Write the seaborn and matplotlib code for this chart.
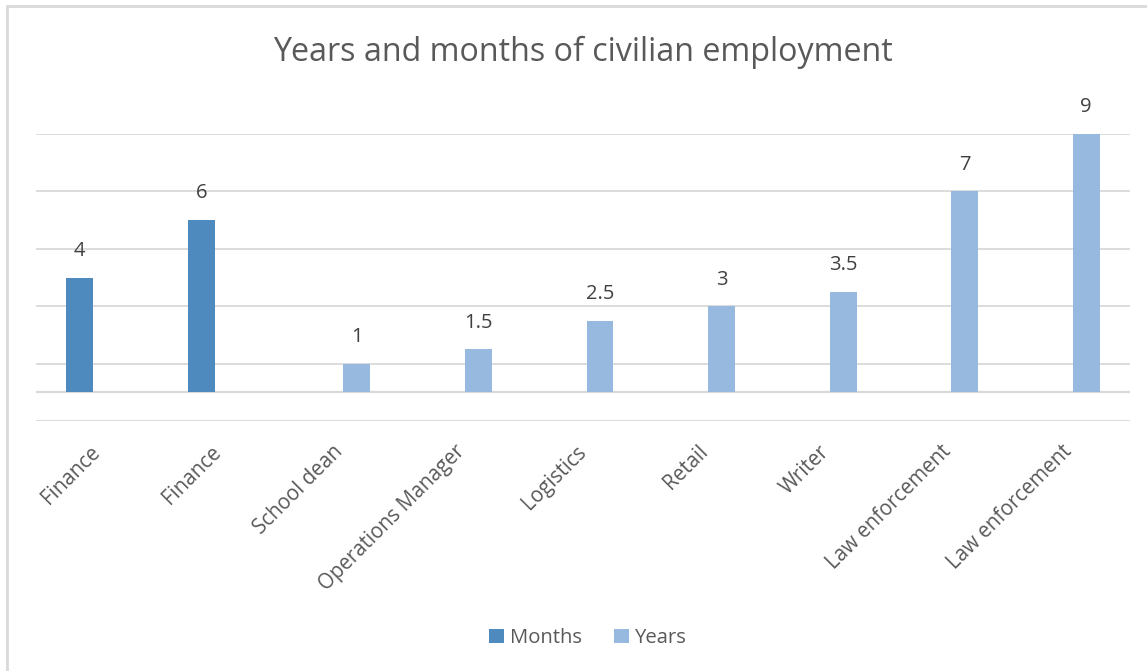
import numpy as np
import pandas as pd
import matplotlib
matplotlib.use("Agg")
import matplotlib.pyplot as plt
from matplotlib.patches import Rectangle
import seaborn as sns

# Jobs held before service, with time spent in each
jobs = ["Finance", "Finance", "School dean", "Operations Manager", "Logistics",
        "Retail", "Writer", "Law enforcement", "Law enforcement"]
months = [4, 6, None, None, None, None, None, None, None]
years = [None, None, 1, 1.5, 2.5, 3, 3.5, 7, 9]
series_names = ["Months", "Years"]
series_colors = ["#4f8abe", "#97b9e0"]

rows = []
for i, (m, y) in enumerate(zip(months, years)):
    if m is not None:
        rows.append({"slot": i, "unit": "Months", "value": m})
    if y is not None:
        rows.append({"slot": i, "unit": "Years", "value": y})
df = pd.DataFrame(rows)

sns.set_theme(style="white")
plt.rcParams["font.family"] = ["Open Sans", "DejaVu Sans"]
text_color = "#595959"
grid_color = "#d9d9d9"

fig = plt.figure(figsize=(11.47, 6.71), dpi=100)
W, H = 1147, 671

# chart area frame
fig.patches.append(Rectangle((7 / W, -0.1), 1.2, (H - 6) / H + 0.1,
                             transform=fig.transFigure, fill=False,
                             edgecolor=grid_color, linewidth=2.0))

ax = fig.add_axes([36 / W, (H - 421) / H, (1130 - 36) / W, (421 - 134) / H])

sns.barplot(data=df, x="slot", y="value", hue="unit", order=list(range(len(jobs))),
            hue_order=series_names, palette=series_colors, width=0.56, gap=0.21,
            dodge=True, saturation=1, errorbar=None, legend=True, ax=ax,
            linewidth=0, zorder=3)

ax.set_ylim(-1, 9)
ax.set_yticks([-1, 1, 3, 5, 7, 9])
ax.yaxis.grid(True, color=grid_color, linewidth=1.3, zorder=0)
ax.axhline(0, color=grid_color, linewidth=1.6, zorder=2)
ax.tick_params(axis="y", left=False, labelleft=False)
ax.tick_params(axis="x", bottom=False, pad=14)
ax.set_xticks(range(len(jobs)))
ax.set_xticklabels(jobs, rotation=45, ha="right", va="center", rotation_mode="anchor",
                   fontsize=14.8, color=text_color)
ax.set_xlabel("")
ax.set_ylabel("")
for s in ax.spines.values():
    s.set_visible(False)

for cont in ax.containers:
    ax.bar_label(cont, labels=[("%g" % v) if not np.isnan(v) else "" for v in cont.datavalues],
                 padding=12, fontsize=14.5, color="#404040")

fig.text(583 / W, 1 - 52 / H, "Years and months of civilian employment",
         ha="center", va="center", fontsize=23.2, color=text_color)

leg = ax.legend(loc="center", bbox_to_anchor=(588 / W, 1 - 638 / H),
                bbox_transform=fig.transFigure, ncol=2, frameon=False,
                fontsize=14.6, handlelength=0.72, handleheight=0.72,
                handletextpad=0.3, columnspacing=1.6)
for t in leg.get_texts():
    t.set_color(text_color)

fig.savefig("out.png", dpi=100, facecolor="white")
